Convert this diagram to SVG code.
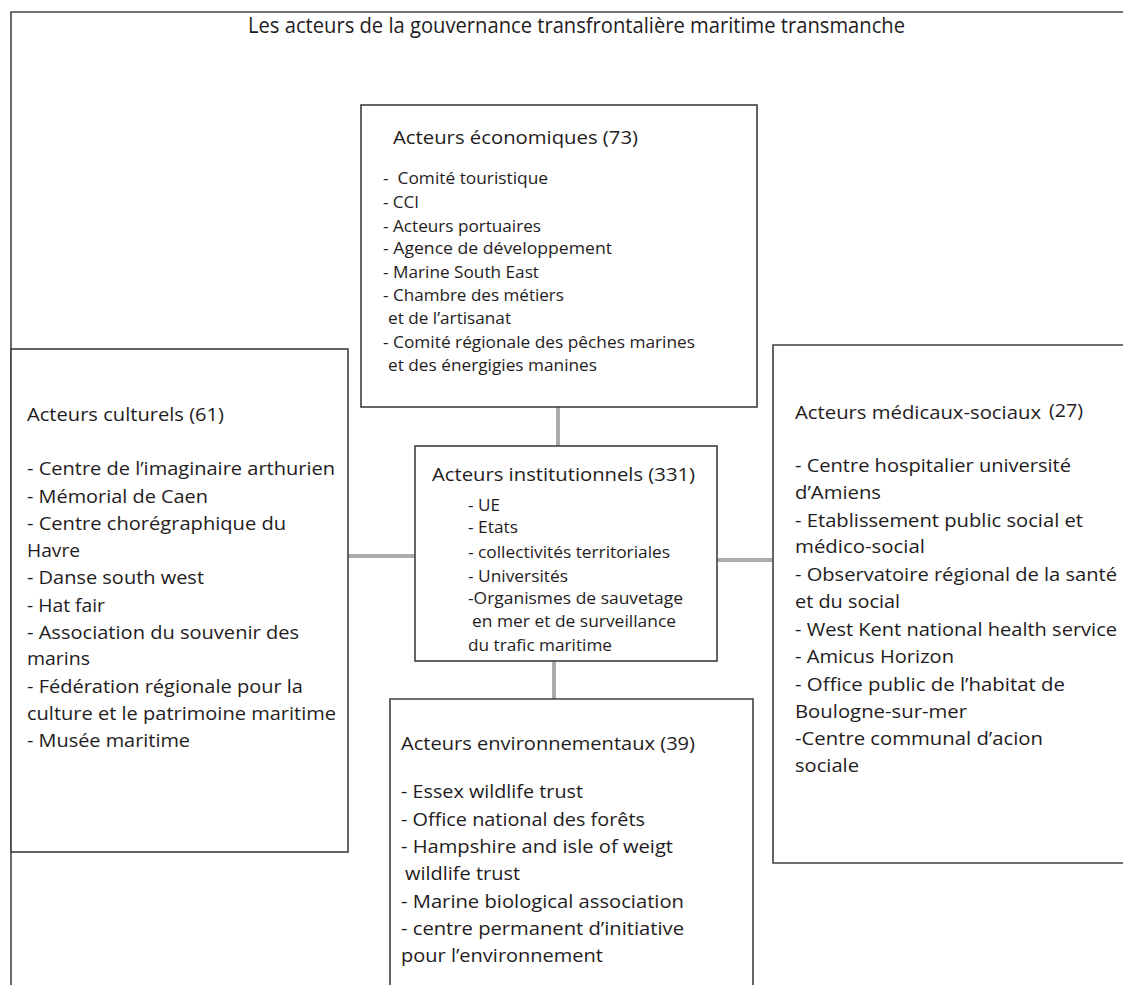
<svg xmlns="http://www.w3.org/2000/svg" width="1123" height="985" viewBox="0 0 1123 985">
<style>
  .frame{fill:none;stroke:#454545;stroke-width:1.6}
  .box{fill:#ffffff;stroke:#404040;stroke-width:1.6}
  .conn{stroke:#ababab;stroke-width:4;fill:none}
  text{font-family:"Open Sans","Noto Sans","Liberation Sans",sans-serif;fill:#1f1c1d}
  .title{font-size:21.5px}
  .h{font-size:18.5px}
  .t{font-size:18px}
  .s{font-size:16.5px}
</style>
<rect x="0" y="0" width="1123" height="985" fill="#ffffff"/>
<g id="frame">
  <path class="frame" d="M11,985 V12 H1123"/>
  <text class="title" x="248" y="33" textLength="657" lengthAdjust="spacingAndGlyphs">Les acteurs de la gouvernance transfrontalière maritime transmanche</text>
</g>
<g id="connectors">
  <line class="conn" x1="558" y1="407" x2="558" y2="446"/>
  <line class="conn" x1="348" y1="556" x2="415" y2="556"/>
  <line class="conn" x1="717" y1="560" x2="773" y2="560"/>
  <line class="conn" x1="554" y1="661" x2="554" y2="699"/>
</g>
<g id="economiques">
  <rect class="box" x="361" y="105" width="396" height="302"/>
  <text class="h" x="393" y="144" textLength="245" lengthAdjust="spacingAndGlyphs">Acteurs économiques (73)</text>
  <text class="s" x="383" y="184" textLength="165" lengthAdjust="spacingAndGlyphs" xml:space="preserve">-  Comité touristique</text>
  <text class="s" x="383" y="208" textLength="36" lengthAdjust="spacingAndGlyphs">- CCI</text>
  <text class="s" x="383" y="232" textLength="158" lengthAdjust="spacingAndGlyphs">- Acteurs portuaires</text>
  <text class="s" x="383" y="254" textLength="229" lengthAdjust="spacingAndGlyphs">- Agence de développement</text>
  <text class="s" x="383" y="278" textLength="156" lengthAdjust="spacingAndGlyphs">- Marine South East</text>
  <text class="s" x="383" y="301" textLength="181" lengthAdjust="spacingAndGlyphs">- Chambre des métiers</text>
  <text class="s" x="388" y="324" textLength="123" lengthAdjust="spacingAndGlyphs">et de l’artisanat</text>
  <text class="s" x="383" y="348" textLength="312" lengthAdjust="spacingAndGlyphs">- Comité régionale des pêches marines</text>
  <text class="s" x="388" y="371" textLength="209" lengthAdjust="spacingAndGlyphs">et des énergigies manines</text>
</g>
<g id="culturels">
  <rect class="box" x="11" y="349" width="337" height="503"/>
  <text class="h" x="27" y="421" textLength="197" lengthAdjust="spacingAndGlyphs">Acteurs culturels (61)</text>
  <text class="t" x="27" y="475" textLength="308" lengthAdjust="spacingAndGlyphs">- Centre de l’imaginaire arthurien</text>
  <text class="t" x="27" y="503" textLength="181" lengthAdjust="spacingAndGlyphs">- Mémorial de Caen</text>
  <text class="t" x="27" y="530" textLength="259" lengthAdjust="spacingAndGlyphs">- Centre chorégraphique du</text>
  <text class="t" x="27" y="557" textLength="53" lengthAdjust="spacingAndGlyphs">Havre</text>
  <text class="t" x="27" y="584" textLength="177" lengthAdjust="spacingAndGlyphs">- Danse south west</text>
  <text class="t" x="27" y="612" textLength="78" lengthAdjust="spacingAndGlyphs">- Hat fair</text>
  <text class="t" x="27" y="639" textLength="272" lengthAdjust="spacingAndGlyphs">- Association du souvenir des</text>
  <text class="t" x="27" y="665" textLength="63" lengthAdjust="spacingAndGlyphs">marins</text>
  <text class="t" x="27" y="693" textLength="276" lengthAdjust="spacingAndGlyphs">- Fédération régionale pour la</text>
  <text class="t" x="27" y="720" textLength="309" lengthAdjust="spacingAndGlyphs">culture et le patrimoine maritime</text>
  <text class="t" x="27" y="747" textLength="163" lengthAdjust="spacingAndGlyphs">- Musée maritime</text>
</g>
<g id="institutionnels">
  <rect class="box" x="415" y="446" width="302" height="215"/>
  <text class="h" x="432" y="481" textLength="263" lengthAdjust="spacingAndGlyphs">Acteurs institutionnels (331)</text>
  <text class="s" x="468" y="511" textLength="32" lengthAdjust="spacingAndGlyphs">- UE</text>
  <text class="s" x="468" y="533" textLength="50" lengthAdjust="spacingAndGlyphs">- Etats</text>
  <text class="s" x="468" y="558" textLength="202" lengthAdjust="spacingAndGlyphs">- collectivités territoriales</text>
  <text class="s" x="468" y="582" textLength="100" lengthAdjust="spacingAndGlyphs">- Universités</text>
  <text class="s" x="468" y="604" textLength="215" lengthAdjust="spacingAndGlyphs">-Organismes de sauvetage</text>
  <text class="s" x="472" y="627" textLength="204" lengthAdjust="spacingAndGlyphs">en mer et de surveillance</text>
  <text class="s" x="468" y="651" textLength="144" lengthAdjust="spacingAndGlyphs">du trafic maritime</text>
</g>
<g id="medicaux">
  <path class="box" d="M1123,345 H773 V863 H1123"/>
  <text class="h" x="795" y="419" textLength="246" lengthAdjust="spacingAndGlyphs">Acteurs médicaux-sociaux</text>
  <text class="h" x="1049" y="417" textLength="34" lengthAdjust="spacingAndGlyphs">(27)</text>
  <text class="t" x="795" y="472" textLength="276" lengthAdjust="spacingAndGlyphs">- Centre hospitalier université</text>
  <text class="t" x="795" y="499" textLength="86" lengthAdjust="spacingAndGlyphs">d’Amiens</text>
  <text class="t" x="795" y="527" textLength="288" lengthAdjust="spacingAndGlyphs">- Etablissement public social et</text>
  <text class="t" x="795" y="553" textLength="130" lengthAdjust="spacingAndGlyphs">médico-social</text>
  <text class="t" x="795" y="581" textLength="322" lengthAdjust="spacingAndGlyphs">- Observatoire régional de la santé</text>
  <text class="t" x="795" y="608" textLength="105" lengthAdjust="spacingAndGlyphs">et du social</text>
  <text class="t" x="795" y="636" textLength="322" lengthAdjust="spacingAndGlyphs">- West Kent national health service</text>
  <text class="t" x="795" y="663" textLength="159" lengthAdjust="spacingAndGlyphs">- Amicus Horizon</text>
  <text class="t" x="795" y="691" textLength="270" lengthAdjust="spacingAndGlyphs">- Office public de l’habitat de</text>
  <text class="t" x="795" y="718" textLength="172" lengthAdjust="spacingAndGlyphs">Boulogne-sur-mer</text>
  <text class="t" x="795" y="745" textLength="248" lengthAdjust="spacingAndGlyphs">-Centre communal d’acion</text>
  <text class="t" x="795" y="772" textLength="64" lengthAdjust="spacingAndGlyphs">sociale</text>
</g>
<g id="environnementaux">
  <path class="box" d="M390,985 V699 H753 V985"/>
  <text class="h" x="401" y="750" textLength="294" lengthAdjust="spacingAndGlyphs">Acteurs environnementaux (39)</text>
  <text class="t" x="401" y="798" textLength="182" lengthAdjust="spacingAndGlyphs">- Essex wildlife trust</text>
  <text class="t" x="401" y="826" textLength="244" lengthAdjust="spacingAndGlyphs">- Office national des forêts</text>
  <text class="t" x="401" y="853" textLength="272" lengthAdjust="spacingAndGlyphs">- Hampshire and isle of weigt</text>
  <text class="t" x="405" y="880" textLength="115" lengthAdjust="spacingAndGlyphs">wildlife trust</text>
  <text class="t" x="401" y="908" textLength="283" lengthAdjust="spacingAndGlyphs">- Marine biological association</text>
  <text class="t" x="401" y="935" textLength="283" lengthAdjust="spacingAndGlyphs">- centre permanent d’initiative</text>
  <text class="t" x="401" y="962" textLength="202" lengthAdjust="spacingAndGlyphs">pour l’environnement</text>
</g>
</svg>
